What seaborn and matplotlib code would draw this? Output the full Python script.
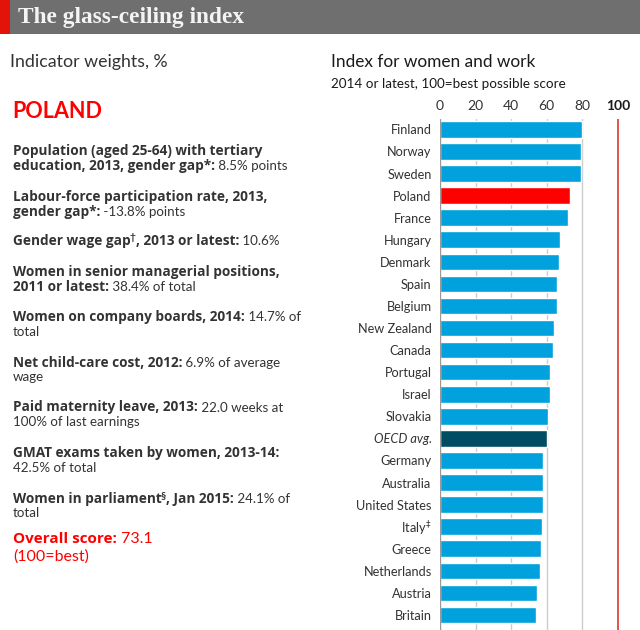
import matplotlib
matplotlib.use("Agg")
import matplotlib.pyplot as plt
import seaborn as sns
import pandas as pd
from matplotlib.patches import Rectangle

# ---------------- data ----------------
countries = ["Finland", "Norway", "Sweden", "Poland", "France", "Hungary", "Denmark",
             "Spain", "Belgium", "New Zealand", "Canada", "Portugal", "Israel",
             "Slovakia", "OECD avg.", "Germany", "Australia", "United States",
             "Italy‡", "Greece", "Netherlands", "Austria", "Britain"]
scores = [80.0, 79.1, 79.1, 73.1, 71.8, 67.5, 66.9, 65.8, 65.8, 63.9, 63.3, 62.0,
          62.0, 60.9, 60.1, 57.7, 57.7, 57.7, 57.2, 56.6, 56.0, 54.7, 54.1]
highlight = "Poland"
average = "OECD avg."
tick_values = [0, 20, 40, 60, 80, 100]
tick_labels = ["0", "20", "40", "60", "80", "100"]

# left panel: (segments per line); segment = (text, style)
indicator_lines = [
    [[("Population (aged 25-64) with tertiary", "b")],
     [("education, 2013, gender gap*:", "b"), (" 8.5% points", "r")]],
    [[("Labour-force participation rate, 2013,", "b")],
     [("gender gap*:", "b"), (" -13.8% points", "r")]],
    [[("Gender wage gap", "b"), ("†", "sup"), (", 2013 or latest:", "b"), (" 10.6%", "r")]],
    [[("Women in senior managerial positions,", "b")],
     [("2011 or latest:", "b"), (" 38.4% of total", "r")]],
    [[("Women on company boards, 2014:", "b"), (" 14.7% of", "r")],
     [("total", "r")]],
    [[("Net child-care cost, 2012:", "b"), (" 6.9% of average", "r")],
     [("wage", "r")]],
    [[("Paid maternity leave, 2013:", "b"), (" 22.0 weeks at", "r")],
     [("100% of last earnings", "r")]],
    [[("GMAT exams taken by women, 2013-14:", "b")],
     [("42.5% of total", "r")]],
    [[("Women in parliament", "b"), ("§", "sup"), (", Jan 2015:", "b"), (" 24.1% of", "r")],
     [("total", "r")]],
]
overall_label = "Overall score:"
overall_value = " 73.1"

# ---------------- style ----------------
W, H = 640, 630
BLUE = "#00a1dc"
RED = "#ff0000"
DARK = "#004d63"
TXT = "#333333"

sns.set_theme(style="white")
plt.rcParams["font.family"] = ["Lato", "DejaVu Sans"]
plt.rcParams["mathtext.fontset"] = "dejavusans"

fig = plt.figure(figsize=(W / 100, H / 100), dpi=100)
fig.patch.set_facecolor("white")

def fx(x):
    return x / W

def fy(y):
    return 1 - y / H

# header
fig.patches.append(Rectangle((0, fy(34)), 1, 34 / H, transform=fig.transFigure,
                             facecolor="#6f6f6f", edgecolor="none", zorder=0))
fig.patches.append(Rectangle((0, fy(34)), 10 / W, 34 / H, transform=fig.transFigure,
                             facecolor="#e3120b", edgecolor="none", zorder=1))
fig.text(fx(18), fy(17), "The glass-ceiling index", color="#f4f4f4",
         family=["Liberation Serif", "DejaVu Serif"], fontweight="bold",
         fontsize=16.8, va="center", ha="left")

# ---------------- bar chart ----------------
ax = fig.add_axes([fx(440), 0, 1 - fx(440), fy(119)])
df = pd.DataFrame({"country": countries, "score": scores})
palette = {c: (RED if c == highlight else DARK if c == average else BLUE) for c in countries}
sns.barplot(data=df, y="country", x="score", hue="country", palette=palette,
            legend=False, width=0.75, saturation=1, ax=ax, zorder=3)
ax.set_xlim(0, 112.4)
ax.set_ylim(len(countries) - 1 + 0.68, -0.47)
ax.set_xlabel("")
ax.set_ylabel("")
for v in tick_values[1:-1]:
    ax.axvline(v, color="#cccccc", lw=1, zorder=1)
ax.axvline(100, color="#e0463c", lw=1.3, zorder=2)
ax.axvline(0, color="#9a9a9a", lw=1, zorder=4)
for s in ax.spines.values():
    s.set_visible(False)
ax.xaxis.tick_top()
ax.set_xticks(tick_values)
ax.set_xticklabels(tick_labels)
ax.tick_params(axis="x", length=0, pad=5, labelsize=10, colors=TXT)
for lab in ax.get_xticklabels():
    if lab.get_text() == "100":
        lab.set_fontweight("bold")
        lab.set_color("#1a1a1a")
ax.set_yticks(range(len(countries)))
ylabels = [c.replace("‡", r"$^{\ddag}$") for c in countries]
ax.set_yticklabels(ylabels)
ax.tick_params(axis="y", length=0, pad=6, labelsize=9.2, colors=TXT)
for lab, c in zip(ax.get_yticklabels(), countries):
    if c == average:
        lab.set_fontstyle("italic")

# ---------------- text panels ----------------
fig.text(fx(10), fy(62), "Indicator weights, %", fontsize=12.8, color=TXT, va="center")
fig.text(fx(331), fy(62), "Index for women and work", fontsize=12.4, color="#1a1a1a", va="center")
fig.text(fx(331), fy(83.5), "2014 or latest, 100=best possible score", fontsize=9.7,
         color="#1a1a1a", va="center")
fig.text(fx(12), fy(111), "POLAND", fontsize=15.5, fontweight="bold", color=RED, va="center")

fig.canvas.draw()
rend = fig.canvas.get_renderer()
BOLD_FAMILY = ["Open Sans", "Lato", "DejaVu Sans"]

def seg_line(x, y, segs, color=TXT, size=9.8, rsize=9.6, bfam=BOLD_FAMILY):
    for txt, st in segs:
        if st == "b":
            t = fig.text(fx(x), fy(y), txt, fontsize=size, fontweight="bold",
                         family=bfam, color=color, va="baseline")
        elif st == "sup":
            t = fig.text(fx(x - 1), fy(y - 5), txt, fontsize=size * 0.75,
                         fontweight="bold", color=color, va="baseline")
        else:
            t = fig.text(fx(x), fy(y), txt, fontsize=rsize, color=color, va="baseline")
        bb = t.get_window_extent(renderer=rend)
        x += bb.width - (1 if st == "sup" else 0)

para_tops = [150.7, 196.7, 241, 271.7, 316.7, 362.3, 407, 452.7, 498.3]
line_gap = 14.4
for top, para in zip(para_tops, indicator_lines):
    for i, line in enumerate(para):
        seg_line(13, top + 4.5 + i * line_gap, line)

seg_line(13, 538.3 + 5, [(overall_label, "b"), (overall_value, "r")], color=RED,
         size=11, rsize=11.5)
seg_line(13, 556 + 5, [("(100=best)", "r")], color=RED, size=11, rsize=11.5)

fig.savefig("out.png", dpi=100, facecolor="white")
